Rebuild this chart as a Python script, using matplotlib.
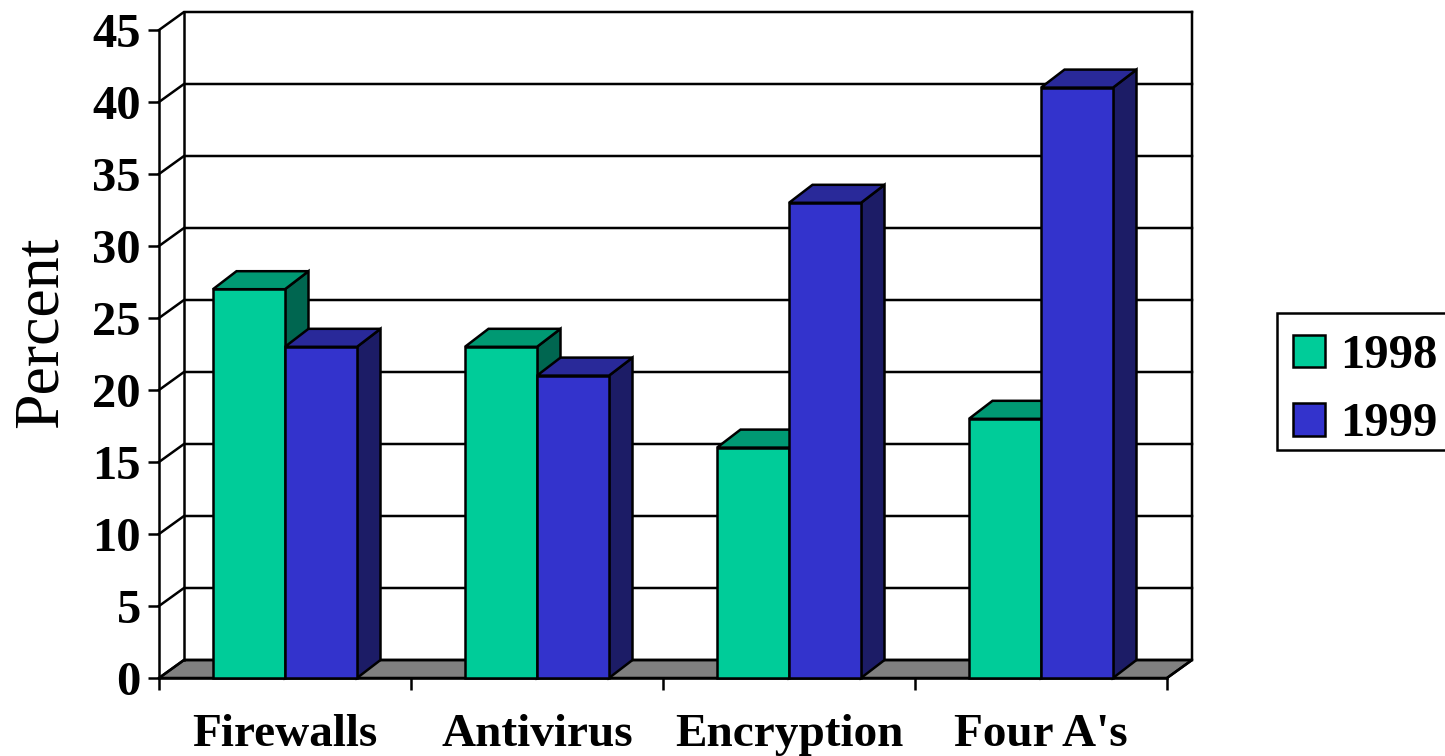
import matplotlib
matplotlib.use('Agg')
import matplotlib.pyplot as plt
from matplotlib.patches import Patch, Polygon, Rectangle

categories = ['Firewalls', 'Antivirus', 'Encryption', "Four A's"]
series_names = ['1998', '1999']
values_1998 = [27, 23, 16, 18]
values_1999 = [23, 21, 33, 41]
y_ticks = list(range(0, 50, 5))

plt.rcParams['font.family'] = ['Liberation Serif', 'DejaVu Serif']

W, H = 1445, 756
fig = plt.figure(figsize=(W / 100, H / 100), dpi=100)
# front plane of the fake 3D box, pixel box
ax = fig.add_axes([159 / W, 1 - 678 / H, 1008 / W, 648 / H])
ax.set_xlim(0, 4)
ax.set_ylim(0, 45)

px_x = 4 / 1008
px_y = 45 / 648
wall_dx, wall_dy = 25 * px_x, 18 * px_y
bar_dx, bar_dy = 23.5 * px_x, 18 * px_y
bar_w = 72 * px_x
lw = 1.8

# ── walls and floor ──
ax.add_patch(Polygon([(0, 0), (4, 0), (4 + wall_dx, wall_dy), (wall_dx, wall_dy)],
                     fc='#808080', ec='black', lw=lw, clip_on=False, zorder=1))
for v in y_ticks:
    ax.plot([0, wall_dx, 4 + wall_dx], [v, v + wall_dy, v + wall_dy],
            color='black', lw=lw, clip_on=False, zorder=1.5, solid_joinstyle='miter')
ax.plot([wall_dx, wall_dx], [wall_dy, 45 + wall_dy], color='black', lw=lw, clip_on=False, zorder=1.5)
ax.plot([4, 4 + wall_dx, 4 + wall_dx], [0, wall_dy, 45 + wall_dy], color='black', lw=lw,
        clip_on=False, zorder=1.5)

# ── bars: front through ax.bar, then top and side faces ──
colors = {
    '1998': ('#00CC99', '#009973', '#006650'),
    '1999': ('#3333CC', '#292999', '#1C1C66'),
}
z = 3
for i in range(len(categories)):
    for j, (name, vals) in enumerate(zip(series_names, [values_1998, values_1999])):
        front, top, side = colors[name]
        v = vals[i]
        left = i + 0.5 - bar_w + j * bar_w
        right = left + bar_w
        ax.add_patch(Polygon([(right, 0), (right + bar_dx, bar_dy), (right + bar_dx, v + bar_dy), (right, v)],
                             fc=side, ec='black', lw=lw, clip_on=False, zorder=z))
        ax.add_patch(Polygon([(left, v), (left + bar_dx, v + bar_dy), (right + bar_dx, v + bar_dy), (right, v)],
                             fc=top, ec='black', lw=lw, clip_on=False, zorder=z))
        ax.bar(left, v, width=bar_w, align='edge', color=front, edgecolor='black', lw=lw,
               clip_on=False, zorder=z + 0.1)
        z += 1

# ── axes ──
for s in ['top', 'right']:
    ax.spines[s].set_visible(False)
for s in ['left', 'bottom']:
    ax.spines[s].set_linewidth(lw)

ax.set_yticks(y_ticks)
ax.tick_params(axis='y', length=8, width=lw, pad=5, labelsize=35)
ax.set_xticks(range(5))
ax.set_xticklabels([])
ax.tick_params(axis='x', which='major', length=8.5, width=lw)
ax.set_xticks([i + 0.5 for i in range(4)], minor=True)
ax.set_xticklabels(categories, minor=True)
ax.tick_params(axis='x', which='minor', length=0, pad=26, labelsize=34)
for t in ax.get_yticklabels() + ax.get_xticklabels(minor=True):
    t.set_fontweight('bold')

ax.set_ylabel('Percent', fontsize=46)
ax.yaxis.set_label_coords(-0.088, 0.534)

# ── legend: box drawn apart, the rows are not centred in it ──
fig.add_artist(Rectangle((1277 / W, 1 - 450 / H), 200 / W, 137 / H, transform=fig.transFigure,
                         fc='white', ec='black', lw=lw, zorder=1))
handles = [Patch(fc=colors[n][0], ec='black', lw=lw, label=n) for n in series_names]
leg = fig.legend(handles=handles, loc='upper left',
                 bbox_to_anchor=(1293 / W, 1 - 334 / H),
                 prop={'size': 35, 'weight': 'bold', 'family': 'Liberation Serif'},
                 frameon=False,
                 handlelength=0.66, handleheight=0.66, handletextpad=0.3,
                 labelspacing=0.5, borderpad=0, borderaxespad=0)
leg.set_zorder(5)

fig.savefig('out.png', dpi=100)
